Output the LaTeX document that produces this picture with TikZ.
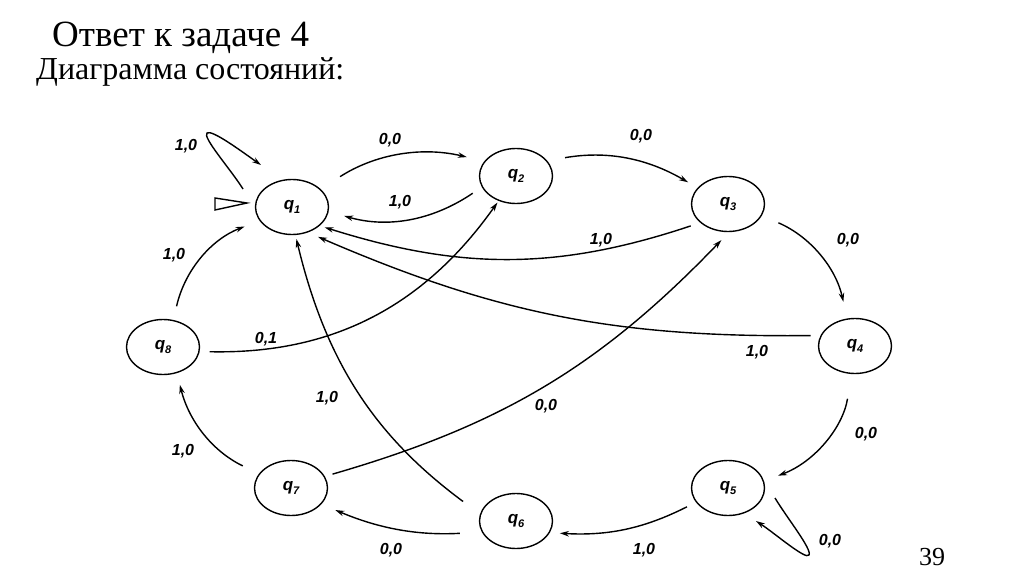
\documentclass[tikz,border=0pt]{standalone}
\usepackage{fontspec}
\setmainfont{Liberation Serif}
\newfontfamily\lblfont{Liberation Sans}
\usetikzlibrary{shapes.geometric,arrows.meta,calc}
\newcommand\qsub[1]{\textit{\textbf{q}}\raisebox{-0.4ex}{\fontsize{11}{11}\selectfont\bfseries\itshape #1}}
\tikzset{
  stnode/.style={ellipse, draw, line width=1.4pt, minimum width=73pt, minimum height=55pt, inner sep=0pt,
    font=\lblfont\fontsize{17}{17}\selectfont\bfseries\itshape},
  tr/.style={-{Stealth[length=9pt,width=5.5pt]}, line width=1.4pt},
  lbl/.style={font=\lblfont\fontsize{16}{16}\selectfont\bfseries\itshape, inner sep=0pt},
}
\begin{document}
\begin{tikzpicture}[x=1pt,y=1pt]
\useasboundingbox (0,0) rectangle (1024,574);
% title
\node[anchor=base west, inner sep=0pt, font=\fontsize{37}{37}\selectfont] (t1) at (52,527) {Ответ к задаче 4};
\node[anchor=base west, inner sep=0pt, font=\fontsize{32}{32}\selectfont] (t2) at (36,494) {Диаграмма состояний:};
\node[anchor=base, inner sep=0pt, font=\fontsize{26}{26}\selectfont] (pg) at (932,9) {39};
% states
\node[stnode] (q1) at (292,367) {\qsub{1}};
\node[stnode] (q2) at (516,398) {\qsub{2}};
\node[stnode] (q3) at (728,370) {\qsub{3}};
\node[stnode] (q4) at (855,228) {\qsub{4}};
\node[stnode] (q5) at (728,86) {\qsub{5}};
\node[stnode] (q6) at (516,53) {\qsub{6}};
\node[stnode] (q7) at (291,86) {\qsub{7}};
\node[stnode] (q8) at (163,227) {\qsub{8}};
% loop tips
\coordinate (t1tip) at ($(q1)+(-85,74)$);
\coordinate (t5tip) at ($(q5)+(81,-67)$);
% initial marker
\draw[line width=1.4pt] ($(q1)+(-77,9)$) -- ($(q1)+(-45,4)$) -- ($(q1)+(-77,-3)$) -- cycle;
% transitions
\draw[tr, shorten <=23pt, shorten >=18pt] (q1.32) to[bend left=23] (q2.155);
\draw[tr, shorten <=11pt, shorten >=16pt] (q2.-162) to[bend left=25] (q1.-7);
\draw[tr, shorten <=18pt, shorten >=11pt] (q2.26) to[bend left=20] (q3.152);
\draw[tr, shorten <=10pt, shorten >=5pt] (q3.214) to[bend left=18] (q1.-34);
\draw[tr, shorten <=10pt, shorten >=11pt] (q4.163) to[bend left=12] (q1.-58);
\draw[tr, shorten <=18pt, shorten >=17pt] (q3.-19) to[bend left=27] (q4.106);
\draw[tr, shorten <=25pt, shorten >=15pt] (q4.-97) to[bend left=30] (q5.11);
\draw[tr] ($(q5)+(47,-10)$) to[out=-59, in=60, out looseness=0.9, in looseness=0.25] (t5tip) to[out=-120, in=-33, out looseness=0.25, in looseness=0.9] ($(q5)+(28,-33)$);
\draw[tr] ($(q1)+(-49,18)$) to[out=122, in=220, out looseness=0.9, in looseness=0.25] (t1tip) to[out=40, in=145, out looseness=0.25, in looseness=0.9] ($(q1)+(-31,42)$);
\draw[tr, shorten <=10pt, shorten >=10pt] (q5.204) to[bend left=15] (q6.-19);
\draw[tr, shorten <=22pt, shorten >=15pt] (q6.198) to[bend left=13] (q7.-28);
\draw[tr, shorten <=21pt, shorten >=4pt] (q6.169) to[bend left=20] (q1.-83);
\draw[tr, shorten <=18pt, shorten >=12pt] (q7.156) to[bend left=25] (q8.-62);
\draw[tr, shorten <=8pt, shorten >=11pt] (q7.19) to[bend right=15] (q3.-88);
\draw[tr, shorten <=10pt, shorten >=2pt] (q8.-7) to[bend right=28] (q2.-125);
\draw[tr, shorten <=14pt, shorten >=16pt] (q8.69) to[bend left=28] (q1.203);
% labels
\node[lbl] (l1) at (186,428) {1,0};
\node[lbl] (l2) at (390,434) {0,0};
\node[lbl] (l3) at (400,372) {1,0};
\node[lbl] (l4) at (641,438) {0,0};
\node[lbl] (l5) at (601,334) {1,0};
\node[lbl] (l6) at (848,334) {0,0};
\node[lbl] (l7) at (174,319) {1,0};
\node[lbl] (l8) at (266,235) {0,1};
\node[lbl] (l9) at (757,222) {1,0};
\node[lbl] (l10) at (327,176) {1,0};
\node[lbl] (l11) at (546,168) {0,0};
\node[lbl] (l12) at (866,140) {0,0};
\node[lbl] (l13) at (183,123) {1,0};
\node[lbl] (l14) at (830,33) {0,0};
\node[lbl] (l15) at (644,24) {1,0};
\node[lbl] (l16) at (391,24) {0,0};
\end{tikzpicture}
\end{document}
